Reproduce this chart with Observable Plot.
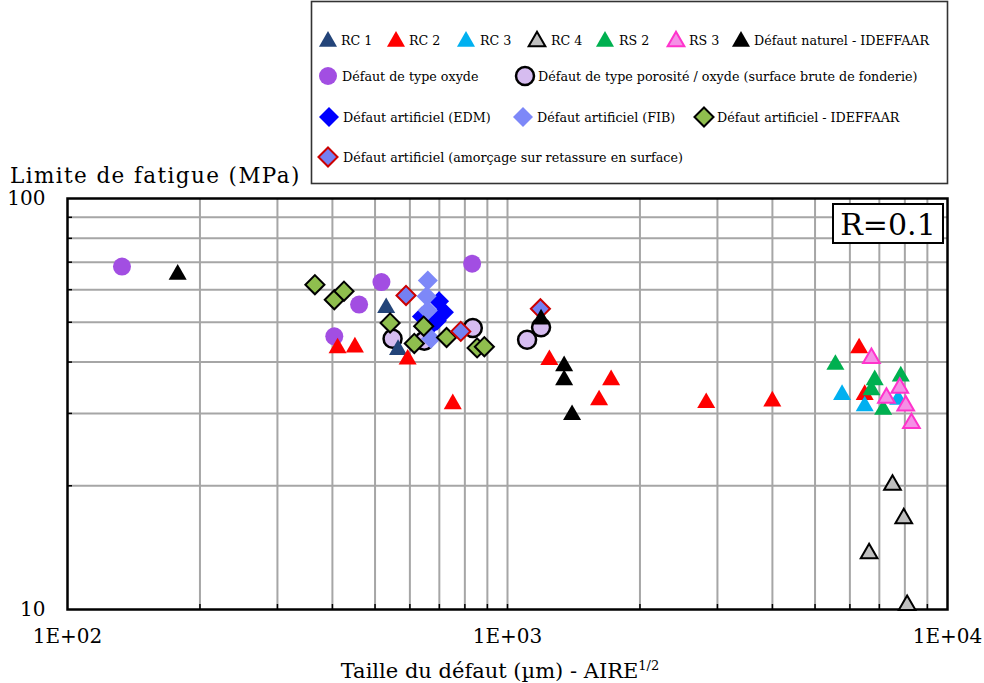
<!DOCTYPE html>
<html><head><meta charset="utf-8">
<script src="https://cdn.jsdelivr.net/npm/d3@7"></script>
<script src="https://cdn.jsdelivr.net/npm/@observablehq/plot@0.6"></script>
<style>body{margin:0;background:#fff}</style>
</head><body><div id="chart"></div>
<script>
// ---- data: [défaut size (µm), fatigue limit (MPa)] ----
const rc1 = [[530,55.0],[564,43.5]];
const rc2 = [[411,43.9],[450,44.1],[593,41.2],[751,32.1],[1245,41.1],[1615,32.8],[1720,36.7],[2829,32.3],[3998,32.6],[6297,43.9],[6484,33.8]];
const rc3 = [[5760,33.8],[6484,31.7],[7725,32.9]];
const rc4 = [[7499,20.4],[7954,16.9],[6635,13.9],[8096,10.4]];
const rs2 = [[5562,40.0],[6833,36.7],[6716,34.7],[7141,31.1],[7831,37.5]];
const rs3 = [[6716,41.5],[7265,33.2],[7790,35.1],[8036,31.8],[8281,28.8]];
const naturel = [[178,66.3],[1192,51.6],[1345,39.7],[1345,36.7],[1402,30.2]];
const oxyde = [[133,68.3],[404,46.2],[460,55.2],[517,62.6],[831,69.4]];
const porosite = [[548,45.6],[647,45.1],[834,48.4],[1108,45.3],[1192,48.6]];
const edm = [[639,51.6],[670,49.1],[699,56.2],[717,52.9],[691,50.4]];
const fib = [[659,63.2],[655,57.8],[659,53.4],[670,45.6]];
const ideffaar = [[365,61.7],[404,56.7],[425,59.5],[541,49.8],[645,48.9],[614,44.4],[727,45.9],[853,43.3],[886,43.6]];
const retassure = [[588,58.1],[783,47.5],[1188,53.9]];

const xLabelTicks = [100, 1000, 10000];
const xLabelText = ["1E+02", "1E+03", "1E+04"];
const yLabelTicks = [10, 100];
const xGrid = [200,300,400,500,600,700,800,900,1000,2000,3000,4000,5000,6000,7000,8000,9000];
const yGrid = [20,30,40,50,60,70,80,90];

const legendNames = {
  rc1: "RC 1", rc2: "RC 2", rc3: "RC 3", rc4: "RC 4", rs2: "RS 2", rs3: "RS 3",
  naturel: "Défaut naturel - IDEFFAAR",
  oxyde: "Défaut de type oxyde",
  porosite: "Défaut de type porosité / oxyde (surface brute de fonderie)",
  edm: "Défaut artificiel (EDM)",
  fib: "Défaut artificiel (FIB)",
  ideffaar: "Défaut artificiel - IDEFFAAR",
  retassure: "Défaut artificiel (amorçage sur retassure en surface)"
};

// ---- styles ----
const TRI = {symbol: "triangle", r: 6.7};
const styles = {
  oxyde:    {data: oxyde,    symbol: "circle", r: 9, fill: "#a24ee2", stroke: "none", sw: 0},
  porosite: {data: porosite, symbol: "circle", r: 9, fill: "#d6bcf0", stroke: "black", sw: 2.5},
  rc1:      {data: rc1, ...TRI, fill: "#234479", stroke: "none", sw: 0},
  edm:      {data: edm,      symbol: "diamond2", r: 9, fill: "#0000ff", stroke: "none", sw: 0},
  fib:      {data: fib,      symbol: "diamond2", r: 9, fill: "#7d88f8", stroke: "none", sw: 0},
  ideffaar: {data: ideffaar, symbol: "diamond2", r: 8.6, fill: "#8fbe4e", stroke: "black", sw: 2},
  retassure:{data: retassure,symbol: "diamond2", r: 8.6, fill: "#7480f2", stroke: "#cc0000", sw: 2},
  rc2:      {data: rc2, ...TRI, fill: "#ff0000", stroke: "none", sw: 0},
  rc3:      {data: rc3, ...TRI, fill: "#00b0f0", stroke: "none", sw: 0},
  rc4:      {data: rc4, ...TRI, r: 6.2, fill: "#bfbfbf", stroke: "black", sw: 2},
  rs2:      {data: rs2, ...TRI, fill: "#00b050", stroke: "none", sw: 0},
  rs3:      {data: rs3, ...TRI, r: 6.2, fill: "#f590e6", stroke: "#ff33cc", sw: 2},
  naturel:  {data: naturel, ...TRI, fill: "black", stroke: "none", sw: 0}
};
const drawOrder = ["oxyde","porosite","rc1","edm","fib","ideffaar","retassure","rc2","rc3","rc4","rs2","rs3","naturel"];

const FONT = "DejaVu Serif";

const dotMarks = drawOrder.map(k => {
  const s = styles[k];
  return Plot.dot(s.data, {
    x: d => d[0], y: d => d[1],
    symbol: s.symbol, r: s.r, fill: s.fill, stroke: s.stroke, strokeWidth: s.sw,
    dy: s.symbol === "triangle" ? 2.6 : 0
  });
});

const plot = Plot.plot({
  width: 984, height: 683,
  marginLeft: 67, marginRight: 37, marginTop: 198, marginBottom: 74,
  style: {fontFamily: FONT, background: "white", color: "black", overflow: "visible"},
  x: {type: "log", domain: [100, 10000]},
  y: {type: "log", domain: [10, 100]},
  marks: [
    Plot.gridX(xGrid, {stroke: "#a6a6a6", strokeOpacity: 1, strokeWidth: 2}),
    Plot.gridY(yGrid, {stroke: "#a6a6a6", strokeOpacity: 1, strokeWidth: 2}),
    // small inward tick marks
    Plot.axisX(xGrid, {tickSize: 5, dy: -5, tickFormat: () => "", label: null, strokeWidth: 1.5}),
    Plot.axisY(yGrid, {tickSize: 5, dx: 5, tickFormat: () => "", label: null, strokeWidth: 1.5}),
    Plot.axisX(xLabelTicks, {tickSize: 0, tickPadding: 19, fontSize: 20, label: null,
      tickFormat: d => xLabelText[xLabelTicks.indexOf(d)]}),
    Plot.axisY(yLabelTicks, {tickSize: 0, tickPadding: 22, fontSize: 20, label: null,
      tickFormat: d => String(d)}),
    Plot.frame({stroke: "black", strokeWidth: 2.5}),
    ...dotMarks
  ]
});

const svg = d3.select(plot);
// y axis title
svg.append("text").attr("x", 10).attr("y", 183).attr("text-anchor", "start")
  .attr("font-family", FONT).attr("font-size", 21.5).attr("letter-spacing", 1.4)
  .attr("fill", "black").text("Limite de fatigue (MPa)");
// x axis title
const xt = svg.append("text").attr("x", 500).attr("y", 678).attr("text-anchor", "middle")
  .attr("font-family", FONT).attr("font-size", 21).attr("fill", "black");
xt.append("tspan").text("Taille du défaut (µm) - AIRE");
xt.append("tspan").attr("font-size", 13).attr("dy", -8).text("1/2");

// R=0.1 box
svg.append("rect").attr("x", 833).attr("y", 204).attr("width", 110).attr("height", 39)
  .attr("fill", "white").attr("stroke", "black").attr("stroke-width", 2);
svg.append("text").attr("x", 888).attr("y", 235).attr("text-anchor", "middle")
  .attr("font-family", FONT).attr("font-size", 30).attr("fill", "black").text("R=0.1");

// legend
const lg = svg.append("g");
lg.append("rect").attr("x", 311.5).attr("y", 1.5).attr("width", 636).attr("height", 182)
  .attr("fill", "white").attr("stroke", "#333").attr("stroke-width", 1.6);
const legendLayout = [
  ["rc1", 328, 341, 40], ["rc2", 396, 409, 40], ["rc3", 466, 480, 40], ["rc4", 537, 551, 40],
  ["rs2", 605, 619, 40], ["rs3", 676, 689, 40], ["naturel", 741, 754, 40],
  ["oxyde", 328, 342, 76], ["porosite", 525, 538, 76],
  ["edm", 329, 343, 117], ["fib", 523, 537, 117], ["ideffaar", 704, 717, 117],
  ["retassure", 328, 343, 157]
];
const symMap = {circle: d3.symbolCircle, triangle: d3.symbolTriangle, diamond2: d3.symbolDiamond2};
for (const [k, sx, tx, y] of legendLayout) {
  const s = styles[k];
  lg.append("path")
    .attr("d", d3.symbol(symMap[s.symbol], s.r * s.r * Math.PI)())
    .attr("transform", `translate(${sx},${y + (s.symbol === "triangle" ? 1.5 : 0)})`)
    .attr("fill", s.fill).attr("stroke", s.stroke).attr("stroke-width", s.sw);
  lg.append("text").attr("x", tx).attr("y", y + 4.5).attr("text-anchor", "start")
    .attr("font-family", FONT).attr("font-size", 12.7)
    .attr("fill", "black").text(legendNames[k]);
}

document.getElementById("chart").appendChild(plot);
</script>
</body></html>
